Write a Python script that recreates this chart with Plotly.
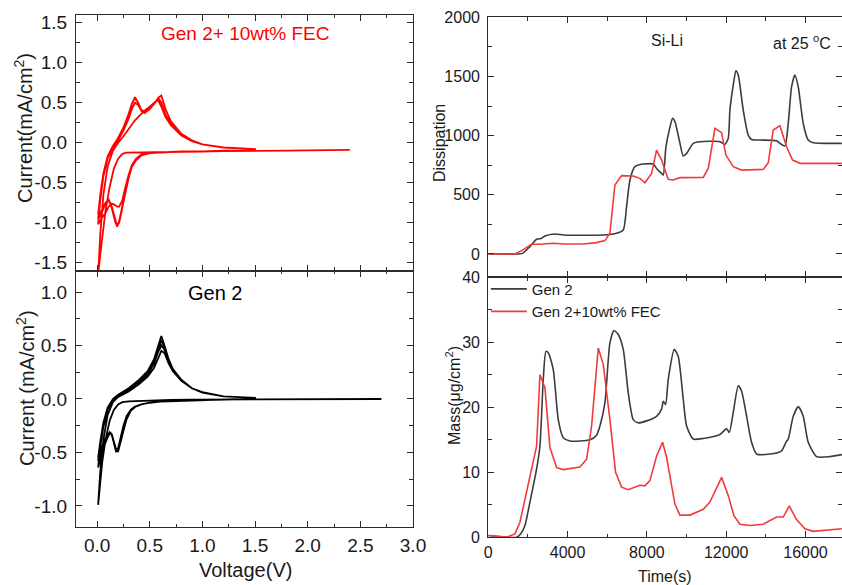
import plotly.graph_objects as go

# ---------------- CV data: Gen 2 + 10wt% FEC (top left) ----------------
FEC_CATH1_V = [2.40, 2.20, 2.00, 1.80, 1.50, 1.20, 1.00, 0.80, 0.60, 0.45, 0.35, 0.28, 0.24, 0.20, 0.16, 0.12, 0.08, 0.05, 0.03, 0.01]
FEC_CATH1_I = [-0.09, -0.09, -0.095, -0.10, -0.10, -0.105, -0.11, -0.115, -0.12, -0.12, -0.12, -0.125, -0.14, -0.20, -0.32, -0.55, -0.85, -1.15, -1.40, -1.65]

FEC_AN_V = [0.01, 0.03, 0.06, 0.10, 0.15, 0.20, 0.25, 0.30, 0.33, 0.36, 0.39, 0.42, 0.45, 0.50, 0.55, 0.58, 0.61, 0.65, 0.70, 0.80, 0.90, 1.00, 1.20, 1.50]
FEC_AN_I = [
    [-1.65, -1.15, -0.65, -0.30, -0.10, 0.00, 0.08, 0.17, 0.23, 0.28, 0.32, 0.36, 0.40, 0.45, 0.51, 0.53, 0.45, 0.32, 0.22, 0.09, 0.02, -0.02, -0.06, -0.08],
    [-1.02, -0.72, -0.42, -0.20, -0.07, 0.03, 0.15, 0.30, 0.42, 0.50, 0.47, 0.40, 0.38, 0.42, 0.50, 0.55, 0.47, 0.33, 0.23, 0.10, 0.03, -0.02, -0.06, -0.08],
    [-0.95, -0.68, -0.40, -0.18, -0.05, 0.05, 0.18, 0.35, 0.48, 0.57, 0.50, 0.40, 0.37, 0.42, 0.50, 0.56, 0.50, 0.35, 0.24, 0.10, 0.03, -0.02, -0.06, -0.08],
    [-0.90, -0.65, -0.38, -0.17, -0.04, 0.06, 0.19, 0.36, 0.49, 0.56, 0.50, 0.41, 0.39, 0.43, 0.50, 0.56, 0.59, 0.42, 0.27, 0.11, 0.03, -0.02, -0.06, -0.08],
]
FEC_CA_V = [1.50, 1.20, 1.00, 0.80, 0.60, 0.50, 0.42, 0.37, 0.33, 0.30, 0.27, 0.24, 0.21, 0.19, 0.17, 0.14, 0.11, 0.08, 0.05, 0.03, 0.01]
FEC_CA_I = [
    [-0.10, -0.10, -0.11, -0.11, -0.12, -0.13, -0.15, -0.20, -0.28, -0.40, -0.55, -0.72, -0.80, -0.80, -0.78, -0.76, -0.80, -0.88, -0.93, -0.97, -1.02],
    [-0.10, -0.10, -0.11, -0.11, -0.12, -0.13, -0.16, -0.22, -0.30, -0.43, -0.60, -0.80, -0.98, -1.05, -0.98, -0.82, -0.72, -0.76, -0.85, -0.92, -0.95],
    [-0.10, -0.10, -0.11, -0.11, -0.12, -0.13, -0.16, -0.22, -0.30, -0.44, -0.62, -0.82, -1.00, -1.04, -0.95, -0.80, -0.71, -0.75, -0.83, -0.88, -0.90],
]

# ---------------- CV data: Gen 2 (bottom left) ----------------
GEN2_CATH1_V = [2.70, 2.40, 2.00, 1.60, 1.20, 0.90, 0.70, 0.50, 0.40, 0.30, 0.24, 0.20, 0.16, 0.12, 0.08, 0.05, 0.03, 0.01]
GEN2_CATH1_I = [0.0, 0.0, 0.0, 0.0, -0.002, -0.005, -0.008, -0.012, -0.016, -0.022, -0.03, -0.05, -0.10, -0.20, -0.38, -0.58, -0.78, -0.99]

GEN2_AN_V = [0.01, 0.03, 0.06, 0.10, 0.15, 0.20, 0.30, 0.40, 0.48, 0.54, 0.58, 0.61, 0.64, 0.68, 0.72, 0.80, 0.90, 1.00, 1.20, 1.50]
GEN2_AN_I = [
    [-0.99, -0.68, -0.38, -0.15, -0.03, 0.02, 0.07, 0.14, 0.21, 0.29, 0.38, 0.45, 0.43, 0.33, 0.26, 0.17, 0.10, 0.06, 0.025, 0.01],
    [-0.64, -0.45, -0.26, -0.10, -0.01, 0.03, 0.09, 0.16, 0.23, 0.33, 0.44, 0.50, 0.46, 0.35, 0.27, 0.17, 0.10, 0.06, 0.025, 0.01],
    [-0.58, -0.42, -0.24, -0.09, 0.00, 0.04, 0.10, 0.17, 0.25, 0.35, 0.47, 0.55, 0.48, 0.36, 0.28, 0.18, 0.10, 0.065, 0.025, 0.01],
    [-0.55, -0.40, -0.22, -0.08, 0.00, 0.04, 0.10, 0.18, 0.26, 0.37, 0.50, 0.59, 0.50, 0.37, 0.28, 0.18, 0.10, 0.065, 0.025, 0.01],
]
GEN2_CA_V = [1.50, 1.20, 1.00, 0.80, 0.60, 0.50, 0.42, 0.36, 0.32, 0.28, 0.25, 0.22, 0.20, 0.18, 0.16, 0.14, 0.12, 0.09, 0.06, 0.03, 0.01]
GEN2_CA_I = [
    [0.0, -0.005, -0.01, -0.015, -0.025, -0.035, -0.05, -0.07, -0.10, -0.16, -0.25, -0.38, -0.46, -0.47, -0.40, -0.33, -0.32, -0.38, -0.46, -0.56, -0.64],
    [0.0, -0.005, -0.01, -0.015, -0.025, -0.035, -0.05, -0.075, -0.11, -0.18, -0.28, -0.41, -0.48, -0.49, -0.41, -0.33, -0.31, -0.36, -0.43, -0.51, -0.58],
    [0.0, -0.005, -0.01, -0.015, -0.025, -0.035, -0.05, -0.075, -0.11, -0.19, -0.30, -0.43, -0.49, -0.49, -0.42, -0.34, -0.31, -0.35, -0.41, -0.49, -0.55],
]

# ---------------- QCM-D data (right) ----------------
DISS_GEN2_T = [0, 1513, 1731, 2101, 2437, 2690, 2858, 3362, 3782, 4455, 5799, 6471, 6807, 6975, 7144, 7396, 7816, 8320, 8488, 8740, 8825, 8960, 9128, 9296, 9414, 9632, 9834, 10002, 10338, 10675, 11683, 11935, 12103, 12187, 12355, 12490, 12607, 12859, 13111, 13279, 13700, 14540, 14708, 14960, 15128, 15297, 15465, 15633, 15885, 16137, 16390, 17836]
DISS_GEN2 = [0, 0, 5, 62, 124, 132, 152, 169, 160, 158, 160, 175, 203, 400, 625, 738, 760, 760, 723, 681, 667, 906, 1047, 1146, 1118, 963, 828, 850, 935, 949, 949, 926, 977, 1216, 1427, 1548, 1512, 1216, 1005, 968, 963, 957, 935, 912, 1103, 1413, 1512, 1413, 1103, 963, 940, 935]

DISS_FEC_T = [0, 1345, 1681, 2185, 2605, 3278, 3782, 4791, 5463, 5883, 6135, 6387, 6723, 7312, 7648, 7900, 8236, 8488, 8740, 9077, 9329, 9665, 10842, 11094, 11431, 11767, 11985, 12355, 12775, 13868, 14120, 14372, 14708, 15044, 15347, 15717, 17836]
DISS_FEC = [0, 0, 28, 82, 82, 90, 84, 84, 96, 113, 175, 583, 662, 659, 639, 602, 681, 878, 794, 631, 625, 645, 647, 723, 1061, 1025, 836, 738, 709, 715, 771, 1047, 1084, 906, 794, 766, 766]

MASS_GEN2_T = [0, 1429, 1631, 1849, 2101, 2437, 2605, 2774, 2908, 3026, 3278, 3530, 3782, 4119, 5127, 5463, 5631, 5883, 6135, 6337, 6556, 6807, 7060, 7312, 7564, 7984, 8488, 8740, 8825, 8942, 9077, 9380, 9582, 9834, 10002, 10338, 10842, 11683, 12019, 12154, 12355, 12607, 12775, 12994, 13279, 13532, 14204, 14792, 15011, 15129, 15381, 15633, 15885, 16137, 16558, 17231, 17836]
MASS_GEN2 = [0.26, 0.0, 0.5, 1.8, 5.4, 10.5, 14.0, 24.3, 28.6, 28.4, 25.8, 18.1, 15.3, 14.8, 15.0, 15.7, 17.1, 20.7, 29.9, 31.8, 31.2, 28.9, 22.2, 18.1, 17.6, 17.9, 18.6, 19.7, 20.9, 20.4, 24.3, 28.9, 27.8, 21.2, 17.1, 15.1, 15.2, 15.8, 16.7, 16.1, 19.2, 23.3, 22.5, 19.2, 14.6, 12.8, 12.8, 13.3, 14.6, 15.1, 18.6, 20.1, 18.6, 14.6, 12.4, 12.4, 12.7]

MASS_FEC_T = [0, 925, 1345, 1597, 2185, 2437, 2605, 2858, 3110, 3446, 3782, 4623, 4959, 5211, 5547, 5799, 6135, 6421, 6724, 7060, 7648, 7900, 8152, 8488, 8791, 8993, 9413, 9666, 10170, 10842, 11178, 11481, 11767, 12103, 12389, 12691, 13196, 13868, 14540, 14876, 15179, 15549, 15970, 16390, 17836]
MASS_FEC = [0.26, 0.0, 0.5, 2.3, 10.5, 14.0, 25.0, 23.0, 13.8, 10.7, 10.4, 10.8, 12.0, 17.1, 29.1, 26.6, 18.1, 10.0, 7.7, 7.3, 8.0, 7.9, 8.7, 12.5, 14.6, 12.3, 5.1, 3.4, 3.4, 4.3, 5.4, 7.4, 9.2, 6.4, 3.3, 2.0, 1.8, 2.0, 3.1, 3.1, 4.8, 2.7, 1.3, 0.9, 1.3]

FONT = "Liberation Sans, Arial, sans-serif"
AX = "#2b2b2b"
RED = "#ff0000"
RED2 = "#f23a3a"
GRAY2 = "#3c3c3c"


def build_cv(c1v, c1i, anv, ani, cav, cai):
    v, i = list(c1v), list(c1i)
    for k in range(len(ani)):
        v += anv
        i += ani[k]
        if k < len(cai):
            v += cav
            i += cai[k]
    return v, i


fec_v, fec_i = build_cv(FEC_CATH1_V, FEC_CATH1_I, FEC_AN_V, FEC_AN_I, FEC_CA_V, FEC_CA_I)
g2_v, g2_i = build_cv(GEN2_CATH1_V, GEN2_CATH1_I, GEN2_AN_V, GEN2_AN_I, GEN2_CA_V, GEN2_CA_I)

fig = go.Figure()
fig.add_trace(go.Scatter(x=fec_v, y=fec_i, mode="lines", line=dict(color=RED, width=1.8),
                         xaxis="x", yaxis="y", showlegend=False))
fig.add_trace(go.Scatter(x=g2_v, y=g2_i, mode="lines", line=dict(color="black", width=1.8),
                         xaxis="x2", yaxis="y2", showlegend=False))
fig.add_trace(go.Scatter(x=DISS_GEN2_T, y=DISS_GEN2, mode="lines", line=dict(color=GRAY2, width=1.6, shape="spline", smoothing=0.6),
                         xaxis="x3", yaxis="y3", showlegend=False))
fig.add_trace(go.Scatter(x=DISS_FEC_T, y=DISS_FEC, mode="lines", line=dict(color=RED2, width=1.6),
                         xaxis="x3", yaxis="y3", showlegend=False))
fig.add_trace(go.Scatter(x=MASS_GEN2_T, y=MASS_GEN2, mode="lines", name="Gen 2",
                         line=dict(color=GRAY2, width=1.6, shape="spline", smoothing=0.6),
                         xaxis="x4", yaxis="y4"))
fig.add_trace(go.Scatter(x=MASS_FEC_T, y=MASS_FEC, mode="lines", name="Gen 2+10wt% FEC",
                         line=dict(color=RED2, width=1.6),
                         xaxis="x4", yaxis="y4"))


def ax(domain, rng, anchor, size, labels=True, tickvals=None, ticktext=None, dtick=None, minor=None, standoff=4):
    d = dict(domain=domain, range=rng, anchor=anchor, showgrid=False, zeroline=False,
             automargin=False,
             showline=True, linecolor=AX, linewidth=1.3, mirror="allticks",
             ticks="inside", ticklen=6, tickwidth=1.2, tickcolor=AX,
             showticklabels=labels, tickfont=dict(family=FONT, size=size, color="#1a1a1a"),
             ticklabelstandoff=standoff)
    if tickvals is not None:
        d.update(tickmode="array", tickvals=tickvals, ticktext=ticktext)
    else:
        d.update(tickmode="linear", tick0=0, dtick=dtick, tickformat="d")
    if minor is not None:
        d["minor"] = dict(tickmode="linear", tick0=0, dtick=minor, ticks="inside", ticklen=3.5,
                          tickwidth=1.1, tickcolor=AX, showgrid=False)
    return d


XL = [0.0903, 0.4905]
XR = [0.5799, 1.0]
cv_xticks = [0, 0.5, 1.0, 1.5, 2.0, 2.5, 3.0]
cv_xtext = ["0.0", "0.5", "1.0", "1.5", "2.0", "2.5", "3.0"]
top_yticks = [-1.5, -1.0, -0.5, 0, 0.5, 1.0, 1.5]
top_ytext = ["-1.5", "-1.0", "-0.5", "0.0", "0.5", "1.0", "1.5"]
bot_yticks = [-1.0, -0.5, 0, 0.5, 1.0]
bot_ytext = ["-1.0", "-0.5", "0.0", "0.5", "1.0"]

fig.update_layout(
    width=842, height=585, margin=dict(l=0, r=0, t=0, b=0, autoexpand=False),
    paper_bgcolor="white", plot_bgcolor="white",
    font=dict(family=FONT, color="#1a1a1a"),
    xaxis=ax(XL, [-0.2, 3.0], "y", 19, labels=False, tickvals=cv_xticks, ticktext=cv_xtext, minor=0.25),
    yaxis=ax([0.5373, 0.9749], [-1.6, 1.6], "x", 19, tickvals=top_yticks, ticktext=top_ytext, minor=0.25),
    xaxis2=ax(XL, [-0.2, 3.0], "y2", 19, tickvals=cv_xticks, ticktext=cv_xtext, minor=0.25, standoff=1),
    yaxis2=ax([0.0986, 0.5373], [-1.2, 1.2], "x2", 19, tickvals=bot_yticks, ticktext=bot_ytext, minor=0.25),
    xaxis3=ax(XR, [0, 17840], "y3", 16, labels=False, dtick=4000, minor=2000),
    yaxis3=ax([0.526, 0.9704], [-197, 2000], "x3", 16, dtick=500, minor=250),
    xaxis4=ax(XR, [0, 17840], "y4", 16, dtick=4000, minor=2000, standoff=0),
    yaxis4=ax([0.0812, 0.526], [-0.05, 40], "x4", 16, dtick=10, minor=5),
    legend=dict(x=0.577, y=0.534, xanchor="left", yanchor="top", bgcolor="rgba(0,0,0,0)",
                font=dict(family=FONT, size=15, color="#1a1a1a"), itemwidth=36, tracegroupgap=0),
)


def ann(text, x, y, size, color="#1a1a1a", angle=0):
    fig.add_annotation(text=text, x=x / 842, y=1 - y / 585, xref="paper", yref="paper",
                       showarrow=False, textangle=angle, xanchor="center", yanchor="middle",
                       font=dict(family=FONT, size=size, color=color))


ann("Gen 2+ 10wt% FEC", 245, 33.3, 19, color=RED)
ann("Gen 2", 215, 293.3, 20, color="black")
ann("Si-Li", 666.7, 40.7, 16)
ann("at 25 <sup>o</sup>C", 801.7, 42, 16)
ann("Current(mA/cm<sup>2</sup>)", 23, 128, 20, angle=-90)
ann("Current (mA/cm<sup>2</sup>)", 25, 388, 20, angle=-90)
ann("Voltage(V)", 246, 570, 20)
ann("Dissipation", 439, 143, 16, angle=-90)
ann("Mass(\u03bcg/cm<sup>2</sup>)", 453, 396, 16, angle=-90)
ann("Time(s)", 665, 576, 16)

fig.write_html("out.html")
